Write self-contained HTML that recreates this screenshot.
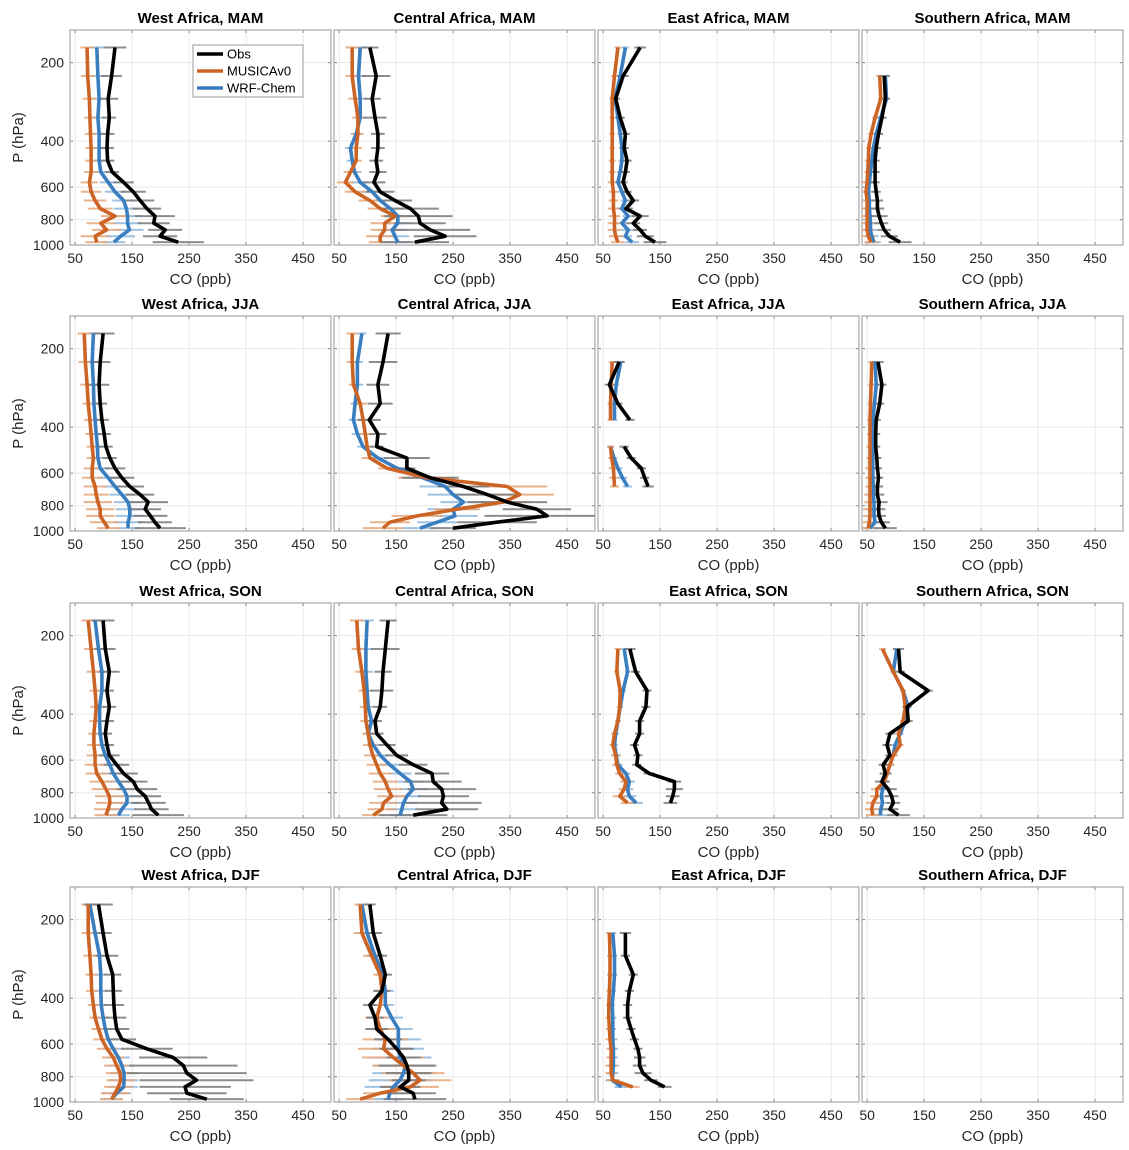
<!DOCTYPE html>
<html><head><meta charset="utf-8"><style>
html,body{margin:0;padding:0;background:#fff;}
svg{display:block;font-family:"Liberation Sans",Arial,sans-serif;}
</style></head><body>
<svg id="chart" width="1129" height="1150" viewBox="0 0 1129 1150" xmlns="http://www.w3.org/2000/svg"></svg>
<script>
const levels = [175,225,275,325,375,425,475,525,575,625,675,725,775,825,875,925,975];
const xTicks = [50,150,250,350,450];
const yTicks = [200,400,600,800,1000];
const regions = ["West Africa","Central Africa","East Africa","Southern Africa"];
const seasons = ["MAM","JJA","SON","DJF"];
const N = null;

const obs_WA_MAM = [120,114,108,110,107,106,107,115,135,152,164,176,190,188,208,199,231];
const mus_WA_MAM = [71,72,75,76,77,78,78,78,75,78,85,94,120,95,105,85,88];
const wrf_WA_MAM = [88,90,92,90,92,92,92,95,108,120,135,140,142,142,145,130,118];
const obs_CA_MAM = [104,115,108,113,118,118,115,118,111,122,148,175,189,192,210,236,183];
const mus_CA_MAM = [73,73,78,83,83,80,80,70,61,78,104,122,148,130,130,122,122];
const wrf_CA_MAM = [87,84,87,87,80,70,73,77,87,108,122,140,153,153,143,148,153];
const obs_EA_MAM = [115,85,72,80,89,87,92,89,85,92,103,90,115,103,115,124,141];
const mus_EA_MAM = [76,70,66,66,66,66,66,66,66,68,68,68,70,70,70,72,76];
const wrf_EA_MAM = [89,80,71,76,80,83,83,80,76,83,89,83,94,83,94,89,101];
const obs_SA_MAM = [N,80,82,76,70,66,64,64,64,66,68,68,71,75,80,89,108];
const mus_SA_MAM = [N,72,74,64,57,53,52,51,50,48,50,50,50,50,50,52,57];
const wrf_SA_MAM = [N,82,84,74,66,61,58,56,54,52,54,54,55,56,56,58,62];

const obs_WA_JJA = [99,94,92,94,97,101,104,111,120,132,146,164,178,173,182,190,199];
const mus_WA_JJA = [66,68,71,73,76,78,80,82,80,80,85,87,90,94,94,101,108];
const wrf_WA_JJA = [82,80,82,83,85,87,89,90,94,108,120,132,143,146,146,143,143];
const obs_CA_JJA = [136,127,118,122,103,118,116,169,169,210,268,310,345,397,415,327,250];
const mus_CA_JJA = [73,73,75,87,92,96,99,104,134,204,345,367,338,257,187,139,127];
const wrf_CA_JJA = [90,82,82,78,75,82,92,118,152,197,236,250,268,250,253,222,192];
const obs_EA_JJA = [N,78,61,76,97,N,87,99,117,123,129,N,N,N,N,N,N];
const mus_EA_JJA = [N,66,64,63,63,N,63,65,68,69,70,N,N,N,N,N,N];
const wrf_EA_JJA = [N,81,73,70,70,N,63,69,76,84,93,N,N,N,N,N,N];
const obs_SA_JJA = [N,69,76,72,66,65,65,67,68,70,68,68,71,70,71,75,82];
const mus_SA_JJA = [N,58,57,56,55,55,55,55,55,55,55,55,55,55,55,54,52];
const wrf_SA_JJA = [N,64,66,63,60,60,60,60,60,60,61,61,62,62,62,64,55];

const obs_WA_SON = [99,103,110,106,110,106,103,106,110,123,135,152,159,173,179,184,196];
const mus_WA_SON = [73,78,82,85,87,85,83,83,85,85,88,97,104,110,111,108,104];
const wrf_WA_SON = [85,91,97,97,93,93,94,97,103,111,117,126,135,141,141,132,126];
const obs_CA_SON = [136,131,127,125,122,113,116,134,151,180,213,215,230,233,230,239,180];
const mus_CA_SON = [81,84,90,94,96,97,101,104,109,116,122,131,136,142,128,125,110];
const wrf_CA_SON = [99,97,97,99,101,107,101,110,122,139,157,175,180,169,163,160,157];
const obs_EA_SON = [N,97,107,127,125,114,114,105,111,109,131,175,175,172,168,N,N];
const mus_EA_SON = [N,76,74,80,79,76,70,67,72,74,79,90,87,79,93,N,N];
const wrf_EA_SON = [N,87,93,85,80,76,72,70,73,76,90,96,93,96,108,N,N];
const obs_SA_SON = [N,105,108,157,120,122,90,85,90,78,82,76,87,93,96,90,105];
const mus_SA_SON = [N,77,96,113,117,113,105,108,96,90,85,80,67,67,60,58,60];
const wrf_SA_SON = [N,102,96,113,122,117,108,99,96,90,85,80,77,75,77,74,73];

const obs_WA_DJF = [91,99,106,116,117,118,120,123,132,176,222,240,246,263,243,246,281];
const mus_WA_DJF = [73,73,76,78,79,82,85,91,97,106,117,123,129,130,126,120,114];
const wrf_WA_DJF = [76,85,93,95,95,96,99,103,108,117,126,132,136,136,135,123,114];
const obs_CA_DJF = [104,110,122,131,125,104,113,116,136,151,163,169,172,172,157,180,183];
const mus_CA_DJF = [87,90,107,122,125,122,116,122,131,128,145,163,180,192,175,122,87];
const wrf_CA_DJF = [90,99,113,127,131,131,142,154,154,154,157,166,163,157,145,139,136];
const obs_EA_DJF = [N,89,89,103,96,93,93,99,105,111,114,114,120,134,158,N,N];
const mus_EA_DJF = [N,61,62,62,61,60,60,61,62,64,64,64,64,67,102,N,N];
const wrf_EA_DJF = [N,67,70,70,68,66,67,67,67,68,68,68,67,66,82,N,N];
const obs_SA_DJF = [N,N,N,N,N,N,N,N,N,N,N,N,N,N,N,N,N];

const errObsA = [20,18,18,12,12,12,12,12,18,22,25,25,35,28,30,30,45];
const errModA = [12,12,12,10,10,10,10,12,15,18,20,22,25,25,25,25,20];
const errObsS = [10,10,8,8,8,8,8,8,8,8,10,12,15,12,12,15,20];
const errModS = [6,6,5,5,5,5,6,6,8,8,8,10,10,12,12,12,12];
const errObsCM = [15,25,15,20,12,12,12,15,20,25,30,50,60,45,70,55,60];
const errObsCJ = [22,25,20,22,20,15,12,40,15,50,45,60,70,60,110,70,40];
const errMusCJ = [10,10,8,12,10,12,10,15,15,50,70,60,50,40,45,35,35];
const errWrfCJ = [8,10,10,8,8,10,10,15,20,30,45,45,40,45,40,35,30];
const errObsWD = [25,15,20,15,15,18,20,22,25,45,60,95,105,100,80,70,65];
const errObsCD = [10,15,12,12,15,12,15,20,25,30,30,50,40,30,35,40,55];
const errModCD = [10,15,15,12,15,15,20,25,40,45,55,55,55,55,50,30,25];

const panels = [
 [obs_WA_MAM,mus_WA_MAM,wrf_WA_MAM,errObsA,errModA],
 [obs_CA_MAM,mus_CA_MAM,wrf_CA_MAM,errObsCM,errModA],
 [obs_EA_MAM,mus_EA_MAM,wrf_EA_MAM,errObsS,errModS],
 [obs_SA_MAM,mus_SA_MAM,wrf_SA_MAM,errObsS,errModS],
 [obs_WA_JJA,mus_WA_JJA,wrf_WA_JJA,errObsA,errModA],
 [obs_CA_JJA,mus_CA_JJA,wrf_CA_JJA,errObsCJ,errMusCJ,errWrfCJ],
 [obs_EA_JJA,mus_EA_JJA,wrf_EA_JJA,errObsS,errModS],
 [obs_SA_JJA,mus_SA_JJA,wrf_SA_JJA,errObsS,errModS],
 [obs_WA_SON,mus_WA_SON,wrf_WA_SON,errObsA,errModA],
 [obs_CA_SON,mus_CA_SON,wrf_CA_SON,errObsCM,errModA],
 [obs_EA_SON,mus_EA_SON,wrf_EA_SON,errObsS,errModS],
 [obs_SA_SON,mus_SA_SON,wrf_SA_SON,errObsS,errModS],
 [obs_WA_DJF,mus_WA_DJF,wrf_WA_DJF,errObsWD,errModA],
 [obs_CA_DJF,mus_CA_DJF,wrf_CA_DJF,errObsCD,errModCD],
 [obs_EA_DJF,mus_EA_DJF,wrf_EA_DJF,errObsS,errModS],
 [obs_SA_DJF,obs_SA_DJF,obs_SA_DJF,errObsS,errModS]
];

const NS = "http://www.w3.org/2000/svg";
const svg = document.getElementById('chart');
const XMIN = 41, XMAX = 499, PW = 261;
const rowOff = [0,286,573,857];
const COL = ["#000000","#CC6426","#3A7EC0"];
const ECOL = ["#7a7a7a","#E6A67A","#8DB8E0"];
const seriesNames = ["obs","musica","wrf"];
function mk(tag, attrs, parent){ const e=document.createElementNS(NS,tag); for(const k in attrs) e.setAttribute(k,attrs[k]); (parent||svg).appendChild(e); return e; }

for(let r=0;r<4;r++){
 for(let c=0;c<4;c++){
  const x0 = 70 + c*264, top = 30 + rowOff[r], bot = top + 215;
  const sx = v => x0 + (v - XMIN)/(XMAX - XMIN)*PW;
  const sy = p => top + (Math.log10(p) - Math.log10(150))*261;
  const g = mk('g',{});
  
  
  xTicks.forEach(t=>{ const l=mk('line',{x1:sx(t),x2:sx(t),y1:top,y2:bot,stroke:'#e8e8e8','stroke-width':1},g);
      });
  yTicks.forEach(t=>{ const l=mk('line',{x1:x0,x2:x0+PW,y1:sy(t),y2:sy(t),stroke:'#e8e8e8','stroke-width':1},g);
     
    mk('line',{x1:x0,x2:x0+3,y1:sy(t),y2:sy(t),stroke:'#888','stroke-width':1},g);
    mk('line',{x1:x0+PW-3,x2:x0+PW,y1:sy(t),y2:sy(t),stroke:'#888','stroke-width':1},g);
    if(c===0){ const tl=mk('text',{x:x0-6,y:sy(t)+5,'text-anchor':'end','font-size':14,fill:'#262626'},g); tl.textContent=t;
        }
  });
  xTicks.forEach(t=>{ mk('line',{x1:sx(t),x2:sx(t),y1:bot-3,y2:bot,stroke:'#888','stroke-width':1},g);
    mk('line',{x1:sx(t),x2:sx(t),y1:top,y2:top+3,stroke:'#888','stroke-width':1},g);
    const tl=mk('text',{x:sx(t),y:bot+18,'text-anchor':'middle','font-size':14,fill:'#262626'},g); tl.textContent=t;
      });
  const fr = mk('rect',{x:x0,y:top,width:PW,height:bot-top,fill:'none',stroke:'#a8a8a8','stroke-width':1.2},g);
   
  const ti = mk('text',{x:x0+PW/2,y:top-7,'text-anchor':'middle','font-size':15,'font-weight':'bold',fill:'#000'},g);
  ti.textContent = regions[c]+', '+seasons[r];
   
  const xl = mk('text',{x:x0+PW/2,y:bot+39,'text-anchor':'middle','font-size':15,fill:'#262626'},g);
  xl.textContent = 'CO (ppb)';
   
  if(c===0){
   const cy=(top+bot)/2;
   const yl = mk('text',{x:0,y:0,transform:`translate(23,${cy}) rotate(-90)`,'text-anchor':'middle','font-size':15,fill:'#262626'},g);
   yl.textContent='P (hPa)';
    
  }
  const pd = panels[r*4+c];
  if(r===3 && c===3) continue;
  const series = [pd[0],pd[1],pd[2]];
  const errs = [pd[3], pd[4], pd[5]||pd[4]];
  for(let s=2;s>=0;s--){
   series[s].forEach((v,i)=>{ if(v===null) return;
     const e=errs[s][i]; const y=sy(levels[i]);
     const l=mk('line',{x1:sx(Math.max(XMIN,v-e)),x2:sx(Math.min(XMAX,v+e)),y1:y,y2:y,stroke:ECOL[s],'stroke-width':2,opacity:0.85},g);
       });
  }
  for(let s=2;s>=0;s--){
   let d='', pen=false;
   series[s].forEach((v,i)=>{ if(v===null){pen=false;return;} d += (pen?'L':'M')+sx(v).toFixed(1)+' '+sy(levels[i]).toFixed(1)+' '; pen=true; });
   if(!d) continue;
   const p=mk('path',{d:d,fill:'none',stroke:COL[s],'stroke-width':3.6,'stroke-linejoin':'round'},g);
    
  }
 }
}
const lg = mk('g',{});
 
mk('rect',{x:193,y:45,width:110,height:52,fill:'#fff',stroke:'#999','stroke-width':1},lg);
const legNames=["Obs","MUSICAv0","WRF-Chem"];
legNames.forEach((n,i)=>{
 const y=54+i*17;
 const ln=mk('line',{x1:197,x2:223,y1:y,y2:y,stroke:COL[i],'stroke-width':3.6},lg);
  
 const t=mk('text',{x:227,y:y+4.5,'font-size':13,fill:'#000'},lg); t.textContent=n;
  
});
</script>
</body></html>
